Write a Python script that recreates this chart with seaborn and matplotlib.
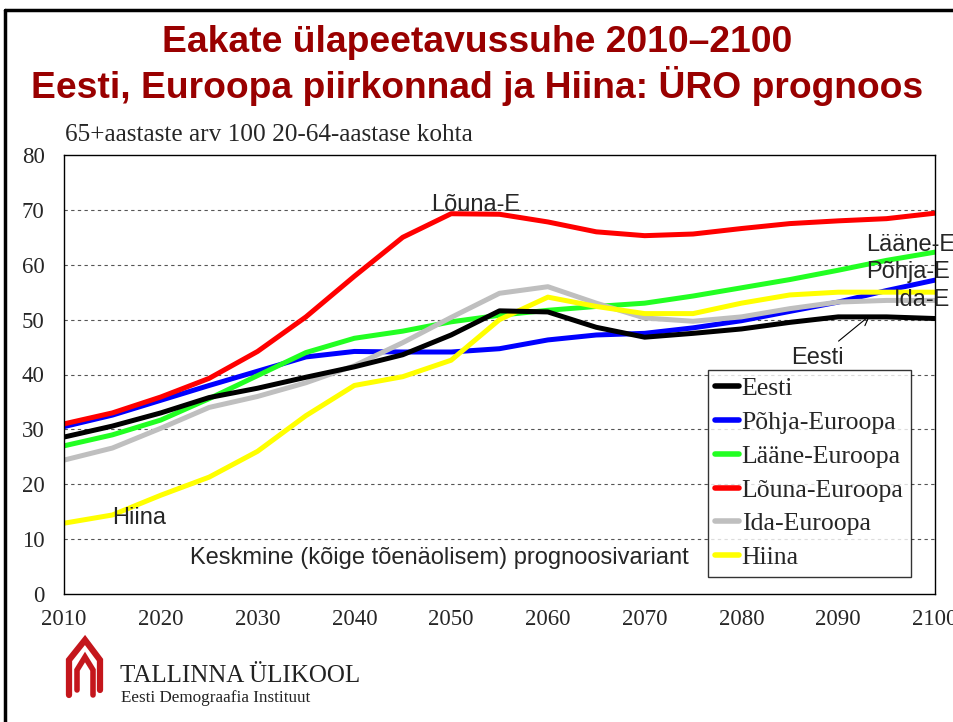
import matplotlib
matplotlib.use("Agg")
import matplotlib.pyplot as plt
from matplotlib.lines import Line2D
import seaborn as sns
import pandas as pd

years = list(range(2010, 2101, 5))

eesti = [28.6, 30.6, 33.0, 35.8, 37.5, 39.5, 41.4, 43.6, 47.2, 51.6, 51.4, 48.6, 46.8, 47.5, 48.3, 49.5, 50.5, 50.5, 50.2]
pohja = [30.5, 32.6, 35.3, 38.0, 40.6, 43.2, 44.2, 44.1, 44.1, 44.7, 46.3, 47.2, 47.5, 48.5, 49.8, 51.5, 53.2, 55.3, 57.2]
laane = [27.0, 29.0, 31.7, 35.6, 39.8, 44.0, 46.6, 47.9, 49.6, 50.8, 51.7, 52.4, 53.0, 54.3, 55.8, 57.3, 59.0, 60.8, 62.3]
louna = [31.0, 33.0, 35.9, 39.3, 44.2, 50.5, 57.9, 65.0, 69.3, 69.2, 67.8, 66.0, 65.3, 65.6, 66.6, 67.5, 68.0, 68.4, 69.4]
ida = [24.4, 26.6, 30.2, 34.0, 36.0, 38.5, 41.6, 45.8, 50.4, 54.8, 56.0, 53.0, 50.3, 49.7, 50.5, 52.0, 53.2, 53.5, 53.5]
hiina = [12.9, 14.4, 18.0, 21.3, 26.0, 32.5, 38.0, 39.6, 42.6, 50.0, 54.1, 52.4, 51.1, 51.1, 53.0, 54.5, 55.0, 55.0, 55.0]

series_names = ["Eesti", "Põhja-Euroopa", "Lääne-Euroopa", "Lõuna-Euroopa", "Ida-Euroopa", "Hiina"]
series_values = [eesti, pohja, laane, louna, ida, hiina]
series_colors = ["#000000", "#0000FF", "#22FF22", "#FF0000", "#BFBFBF", "#FFFF00"]

# long table for seaborn
rows = []
for name, vals in zip(series_names, series_values):
    for yr, v in zip(years, vals):
        rows.append({"aasta": yr, "vaartus": v, "piirkond": name})
df = pd.DataFrame(rows)

sns.set_style("white")
plt.rcParams["font.family"] = ["Liberation Serif", "DejaVu Serif"]

fig = plt.figure(figsize=(9.54, 7.22), dpi=100)
W, H = 954, 722
ax = fig.add_axes([64 / W, 1 - 594 / H, (935 - 64) / W, (594 - 155) / H])

sns.lineplot(data=df, x="aasta", y="vaartus", hue="piirkond", hue_order=series_names,
             palette=series_colors, linewidth=3.6, ax=ax, legend=False)
ax.lines[0].set_zorder(5)

ax.set_xlim(2010, 2100)
ax.set_ylim(0, 80)
ax.set_xticks(range(2010, 2101, 10))
ax.set_yticks(range(0, 81, 10))
ax.set_xlabel("")
ax.set_ylabel("")
ax.tick_params(axis="both", length=0, labelsize=16.5)
ax.tick_params(axis="x", pad=11)
ax.tick_params(axis="y", pad=14)
for s in ax.spines.values():
    s.set_color("black")
    s.set_linewidth(1.0)
for yv in range(10, 80, 10):
    ax.axhline(yv, color="#555555", lw=0.8, ls=(0, (3, 3)), zorder=0)

# legend
handles = [Line2D([0], [0], color=c, lw=4) for c in series_colors]
leg = ax.legend(handles, series_names, loc="lower left", bbox_to_anchor=(0.739, 0.039),
                borderaxespad=0, fontsize=18.5, handlelength=0.9, handletextpad=0.12,
                labelspacing=0.42, borderpad=0.3, frameon=True, fancybox=False)
leg.get_frame().set_edgecolor("black")
leg.get_frame().set_linewidth(1.0)
leg.set_zorder(10)

# series labels
sans = ["Liberation Sans", "DejaVu Sans"]
ax.text(2052.5, 70.9, "Lõuna-E", family=sans, fontsize=17, ha="center", va="center")
ax.text(2092.9, 63.6, "Lääne-E", family=sans, fontsize=17, ha="left", va="center", clip_on=False)
ax.text(2092.9, 58.6, "Põhja-E", family=sans, fontsize=17, ha="left", va="center", clip_on=False)
ax.text(2095.8, 53.6, "Ida-E", family=sans, fontsize=17, ha="left", va="center", clip_on=False)
ax.text(2015.0, 13.8, "Hiina", family=sans, fontsize=17, ha="left", va="center")
ax.text(2048.8, 6.6, "Keskmine (kõige tõenäolisem) prognoosivariant", family=sans,
        fontsize=17, ha="center", va="center")
ax.annotate("Eesti", xy=(2093.3, 50.8), xytext=(2087.9, 43.0), family=sans, fontsize=17,
            ha="center", va="center",
            arrowprops=dict(arrowstyle="->", color="black", lw=0.8, shrinkA=3, shrinkB=0))

# y caption
fig.text(65 / W, 1 - 135 / H, "65+aastaste arv 100 20-64-aastase kohta", fontsize=18.2,
         ha="left", va="center")

# title
title_color = "#990000"
fig.text(0.5, 1 - 43 / H, "Eakate ülapeetavussuhe 2010–2100", family=sans, fontsize=26.8,
         weight="bold", color=title_color, ha="center", va="center")
fig.text(0.5, 1 - 86 / H, "Eesti, Euroopa piirkonnad ja Hiina: ÜRO prognoos", family=sans,
         fontsize=26.8, weight="bold", color=title_color, ha="center", va="center")

# slide frame
fig.add_artist(Line2D([5 / W, 1.0], [1 - 10 / H, 1 - 10 / H], color="black", lw=2.5,
                      transform=fig.transFigure))
fig.add_artist(Line2D([5 / W, 5 / W], [0, 1 - 10 / H], color="black", lw=2.5,
                      transform=fig.transFigure))

# logo
logo_red = "#C4161C"
outer_x = [69, 69, 85, 100, 100]
outer_y = [695, 660, 640, 660, 690]
inner_x = [77, 77, 85, 93, 93]
inner_y = [690, 670, 657, 670, 695]
fig.add_artist(Line2D([x / W for x in outer_x], [1 - y / H for y in outer_y], color=logo_red,
                      lw=4.5, transform=fig.transFigure, solid_joinstyle="miter"))
fig.add_artist(Line2D([x / W for x in inner_x], [1 - y / H for y in inner_y], color=logo_red,
                      lw=4.0, transform=fig.transFigure, solid_joinstyle="miter"))
fig.text(120 / W, 1 - 676 / H, "TALLINNA ÜLIKOOL", fontsize=18, ha="left", va="center",
         color="#222222")
fig.text(121 / W, 1 - 698 / H, "Eesti Demograafia Instituut", fontsize=12.3, ha="left",
         va="center", color="#222222")

fig.savefig("out.png", dpi=100, facecolor="white")
